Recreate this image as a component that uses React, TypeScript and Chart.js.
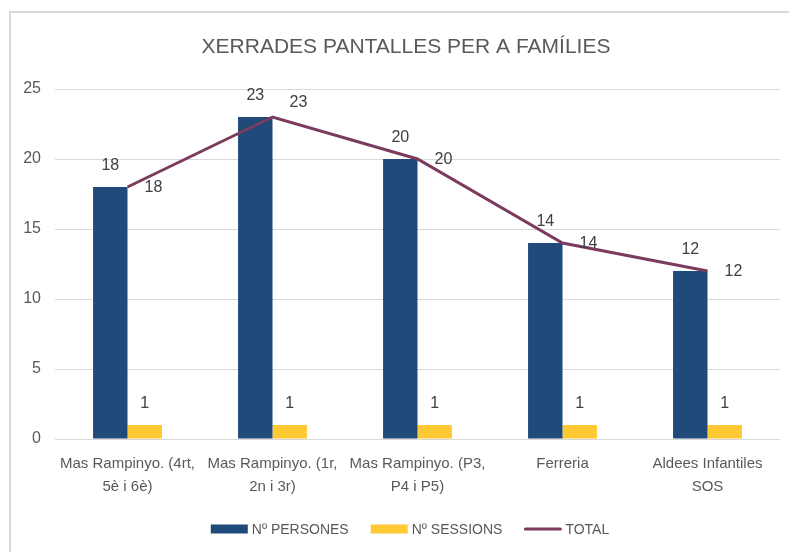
import React, { useEffect, useRef } from "react";
import { Chart, registerables } from "chart.js";

Chart.register(...registerables);

const TITLE = "XERRADES PANTALLES PER A FAMÍLIES";
const CATEGORIES: string[][] = [
  ["Mas Rampinyo. (4rt,", "5è i 6è)"],
  ["Mas Rampinyo. (1r,", "2n i 3r)"],
  ["Mas Rampinyo. (P3,", "P4 i P5)"],
  ["Ferreria"],
  ["Aldees Infantiles", "SOS"],
];
const PERSONES = [18, 23, 20, 14, 12];
const SESSIONS = [1, 1, 1, 1, 1];
const TOTAL = [18, 23, 20, 14, 12];
const SERIES_NAMES = ["Nº PERSONES", "Nº SESSIONS", "TOTAL"];
const Y_MIN = 0;
const Y_MAX = 25;
const Y_STEP = 5;

const BLUE = "#1F4A7A";
const YELLOW = "#FFC933";
const PURPLE = "#7B3B5E";
const TEXT = "#595959";
const LABEL = "#404040";
const GRID = "#D9D9D9";
const FONT = "'Liberation Sans', Arial, sans-serif";

const overlayPlugin = {
  id: "overlay",
  afterDatasetsDraw(chart: any) {
    const ctx = chart.ctx;
    ctx.save();
    ctx.font = `16px ${FONT}`;
    ctx.fillStyle = LABEL;
    chart.data.datasets.forEach((ds: any, di: number) => {
      const meta = chart.getDatasetMeta(di);
      const data = ds.data as number[];
      meta.data.forEach((el: any, i: number) => {
        const v = data[i];
        if (ds.type === "line") {
          const prev = i > 0 ? data[i - 1] : -Infinity;
          const next = i < data.length - 1 ? data[i + 1] : -Infinity;
          const peak = v > prev && v > next && i > 0;
          ctx.textAlign = "left";
          ctx.textBaseline = "middle";
          ctx.fillText(String(v), el.x + 17, el.y + (peak ? -14 : 1));
        } else {
          ctx.textAlign = "center";
          ctx.textBaseline = "middle";
          ctx.fillText(String(v), el.x, el.y - 21);
        }
      });
    });
    ctx.restore();
  },
  afterDraw(chart: any) {
    const ctx = chart.ctx;
    ctx.save();
    // title
    ctx.font = `21px ${FONT}`;
    ctx.fillStyle = TEXT;
    ctx.textAlign = "center";
    ctx.textBaseline = "middle";
    ctx.fillText(TITLE, 406, 47);
    // legend
    ctx.font = `14px ${FONT}`;
    const boxW = 37;
    const boxGap = 4;
    const itemGap = 22;
    const colors = [BLUE, YELLOW, PURPLE];
    const widths = SERIES_NAMES.map((n) => boxW + boxGap + ctx.measureText(n).width);
    const total = widths.reduce((a, b) => a + b, 0) + itemGap * (widths.length - 1);
    let x = 410 - total / 2;
    const y = 529;
    SERIES_NAMES.forEach((n, i) => {
      if (i === 2) {
        ctx.strokeStyle = PURPLE;
        ctx.lineWidth = 3;
        ctx.lineCap = "round";
        ctx.beginPath();
        ctx.moveTo(x + 1, y);
        ctx.lineTo(x + boxW - 1, y);
        ctx.stroke();
      } else {
        ctx.fillStyle = colors[i];
        ctx.fillRect(x, y - 4.5, boxW, 9);
      }
      ctx.fillStyle = TEXT;
      ctx.textAlign = "left";
      ctx.textBaseline = "middle";
      ctx.fillText(n, x + boxW + boxGap, y + 1);
      x += widths[i] + itemGap;
    });
    ctx.restore();
  },
};

export default function App() {
  const ref = useRef<HTMLCanvasElement | null>(null);
  useEffect(() => {
    if (!ref.current) return;
    const chart = new Chart(ref.current, {
      type: "bar",
      data: {
        labels: CATEGORIES,
        datasets: [
          {
            type: "line",
            label: SERIES_NAMES[2],
            data: TOTAL,
            borderColor: PURPLE,
            backgroundColor: PURPLE,
            borderWidth: 3,
            pointRadius: 0,
            tension: 0,
            order: 0,
          } as any,
          {
            type: "bar",
            label: SERIES_NAMES[0],
            data: PERSONES,
            backgroundColor: BLUE,
            categoryPercentage: 0.475,
            barPercentage: 1,
            order: 1,
          },
          {
            type: "bar",
            label: SERIES_NAMES[1],
            data: SESSIONS,
            backgroundColor: YELLOW,
            categoryPercentage: 0.475,
            barPercentage: 1,
            order: 1,
          },
        ],
      },
      options: {
        responsive: false,
        animation: false,
        layout: { padding: { top: 89, right: 9, bottom: 0, left: 0 } },
        plugins: {
          legend: { display: false },
          title: { display: false },
          tooltip: { enabled: false },
        },
        scales: {
          x: {
            grid: { display: false, drawTicks: false },
            border: { display: false },
            ticks: {
              color: TEXT,
              font: { family: FONT, size: 15, lineHeight: 1.5 },
              padding: 14,
              maxRotation: 0,
              autoSkip: false,
            },
            afterFit: (s: any) => {
              s.height = 113;
            },
          },
          y: {
            min: Y_MIN,
            max: Y_MAX,
            ticks: {
              stepSize: Y_STEP,
              color: TEXT,
              font: { family: FONT, size: 16 },
              padding: 14,
            },
            grid: { color: GRID, lineWidth: 1, drawTicks: false },
            border: { display: false },
            afterFit: (s: any) => {
              s.width = 55;
            },
          },
        },
      },
      plugins: [overlayPlugin],
    });
    return () => chart.destroy();
  }, []);
  return (
    <div style={{ position: "fixed", left: 0, top: 0, width: 789, height: 552, overflow: "hidden", background: "#fff" }}>
      <div
        style={{
          position: "absolute",
          left: 9,
          top: 11,
          width: 900,
          height: 700,
          borderTop: "2px solid #D9D9D9",
          borderLeft: "2px solid #D9D9D9",
        }}
      />
      <canvas ref={ref} width={789} height={552} style={{ position: "absolute", left: 0, top: 0 }} />
    </div>
  );
}
